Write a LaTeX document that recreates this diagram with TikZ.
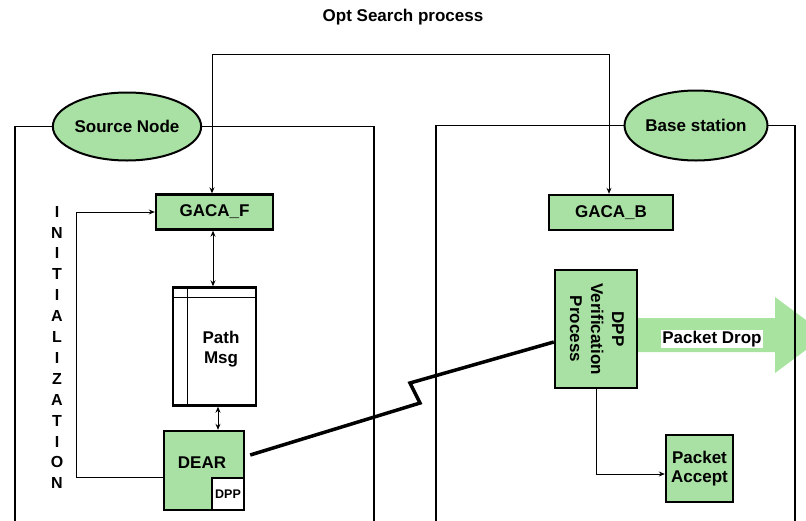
\documentclass[tikz,border=0pt]{standalone}
\usepackage{fontspec}
\setmainfont{Liberation Sans}
\usetikzlibrary{arrows.meta,shapes.geometric,calc}
\definecolor{boxgreen}{RGB}{169,224,163}
\definecolor{arrowgreen}{RGB}{168,228,160}
\tikzset{
  txt/.style={font=\bfseries\fontsize{17}{20}\selectfont},
  gbox/.style={draw, line width=2.4pt, fill=boxgreen, inner sep=0pt, txt},
  wbox/.style={draw, line width=2.4pt, fill=white, inner sep=0pt},
  oval/.style={ellipse, draw, line width=2pt, fill=boxgreen, inner sep=0pt, txt},
  frame/.style={line width=1.4pt},
  conn/.style={line width=0.9pt, -{Stealth[length=6pt,width=5pt]}},
  biconn/.style={line width=0.9pt, {Stealth[length=6pt,width=5pt]}-{Stealth[length=6pt,width=5pt]}},
}
\begin{document}
\begin{tikzpicture}[x=1pt,y=-1pt]
\useasboundingbox (0,0) rectangle (806,520);

% title
\node[txt] (title) at (403,17) {Opt Search process};

% packet drop arrow (behind the frame)
\fill[arrowgreen] (637,318) -- (775,318) -- (775,297) -- (826,335) -- (775,373) -- (775,352) -- (637,352) -- cycle;
\node[txt, fill=white, inner sep=1pt] (drop) at (712,339) {Packet Drop};

% side containers, frame lines first, ovals on top
\coordinate (srcc) at (127,126.5);
\coordinate (bsc) at (696,125.5);
\draw[frame] (srcc) -- (15,126.5) -- (15,525);
\draw[frame] (srcc) -- (374,126.5) -- (374,525);
\draw[frame] (bsc) -- (436,125.5) -- (436,525);
\draw[frame] (bsc) -- (795,125.5) -- (795,525);
\node[oval, minimum width=129, minimum height=68] (src) at (srcc) {Source Node};
\node[oval, minimum width=129, minimum height=70] (bs) at (bsc) {Base station};

% source side
\node[gbox, minimum width=117, minimum height=35] (gacaf) at (214.5,212) {GACA\_F};
\node[wbox, minimum width=83, minimum height=118] (pm) at (214.5,346.5) {};
\draw[line width=0.7pt] ([xshift=16pt]pm.north west) -- ([xshift=16pt]pm.south west);
\draw[line width=0.7pt] ([yshift=-11pt]pm.north west) -- ([yshift=-11pt]pm.north east);
\node[txt, align=center] (pmtxt) at (221,349) {Path\\Msg};
\node[gbox, minimum width=80, minimum height=79] (dear) at (204,470.5) {};
\node[txt] (deartxt) at (202,463) {DEAR};
\node[wbox, minimum width=32, minimum height=32, font=\bfseries\fontsize{12.5}{14}\selectfont] (dpp) at (228,494) {DPP};

\node[align=center, font=\bfseries\fontsize{16}{20.9}\selectfont] (init) at (57,347.5)
  {I\\N\\I\\T\\I\\A\\L\\I\\Z\\A\\T\\I\\O\\N};

% base station side
\node[gbox, minimum width=124, minimum height=35] (gacab) at (611,212.5) {GACA\_B};
\node[gbox, minimum width=82, minimum height=118] (dpv) at (596,329) {};
\node[align=center, rotate=-90, font=\bfseries\fontsize{17}{21}\selectfont] (dpvtxt) at (597,329) {DPP\\Verification\\Process};
\node[gbox, minimum width=67, minimum height=67, align=center, font=\bfseries\fontsize{17}{19}\selectfont] (pa) at (699.5,468.5) {Packet\\Accept};

% connectors
\coordinate (tl) at (212,54);
\coordinate (tr) at (609,54);
\draw[biconn] (tl |- gacaf.north) -- (tl) -- (tr) -- (tr |- gacab.north);
\draw[biconn] ([xshift=-1.5pt]gacaf.south) -- ([xshift=-1.5pt]pm.north);
\draw[biconn] ([xshift=3.5pt]pm.south) -- ([xshift=3.5pt]pm.south |- dear.north);
\coordinate (lp) at (76,477);
\draw[conn] (dear.west |- lp) -- (lp) -- (lp |- gacaf.west) -- (gacaf.west);
\coordinate (ac) at (596,474);
\draw[conn] (dpv.south) -- (ac) -- (ac -| pa.west);

% wireless link
\coordinate (z1) at (420,403);
\coordinate (z2) at (410,383);
\draw[line width=3.5pt, line join=miter] ([shift={(5pt,15.5pt)}]dear.east) -- (z1) -- (z2) -- ([yshift=-13pt]dpv.west);
\end{tikzpicture}
\end{document}
